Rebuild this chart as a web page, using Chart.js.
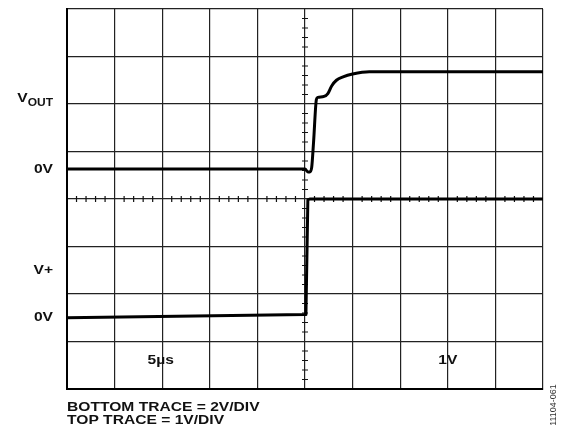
<!DOCTYPE html>
<html>
<head>
<meta charset="utf-8">
<script src="https://cdn.jsdelivr.net/npm/chart.js@4"></script>
<style>
  html, body { margin: 0; padding: 0; background: #fff; }
  #wrap { position: relative; width: 569px; height: 432px; }
</style>
</head>
<body>
<div id="wrap"><canvas id="scope" width="569" height="432"></canvas></div>
<script>
// time in divisions (10 across), level in divisions (8 up)
const topTime = [0, 5.0, 5.06, 5.10, 5.14, 5.18, 5.24, 5.27, 5.40, 5.48, 5.56, 5.66, 5.80, 6.0, 6.35, 10];
const topLevel = [4.63, 4.63, 4.57, 4.57, 4.66, 5.2, 6.1, 6.14, 6.16, 6.22, 6.38, 6.5, 6.57, 6.63, 6.68, 6.68];

const bottomTime = [0, 5.0, 5.02, 5.06, 5.1, 10];
const bottomLevel = [1.5, 1.57, 1.6, 3.98, 4.0, 4.0];

// left side labels: text and level
const sideLabels = ["VOUT", "0V", "V+", "0V"];
const sideLevels = [6.1, 4.63, 2.5, 1.5];

const scaleLabels = ["5µs", "1V"];
const scaleTimes = [1.97, 8.0];

const footLines = ["BOTTOM TRACE = 2V/DIV", "TOP TRACE = 1V/DIV"];
const figId = "11104-061";

const FAMILY = "'Liberation Sans', Arial, sans-serif";
const STRETCH = 1.2;

// text drawn a little wider than the stock font
function wideText(ctx, t, x, y, align, size) {
  ctx.save();
  ctx.font = "bold " + size + "px " + FAMILY;
  ctx.translate(x, y);
  ctx.scale(STRETCH, 1);
  ctx.textAlign = align;
  ctx.fillText(t, 0, 0);
  const w = ctx.measureText(t).width * STRETCH;
  ctx.restore();
  return w;
}

const scopeMarks = {
  id: "scopeMarks",
  beforeDatasetsDraw(chart) {
    const ctx = chart.ctx;
    const xs = chart.scales.x;
    const ys = chart.scales.y;
    const cx = xs.getPixelForValue(5);
    const cy = ys.getPixelForValue(4);
    ctx.save();
    ctx.strokeStyle = "#111";
    ctx.lineWidth = 1.2;
    ctx.beginPath();
    // minor ticks on the centre axes, 5 per division
    for (let i = 1; i < 50; i++) {
      if (i % 5 === 0) continue;
      const px = xs.getPixelForValue(i * 0.2);
      ctx.moveTo(px, cy - 3);
      ctx.lineTo(px, cy + 3);
    }
    for (let i = 1; i < 40; i++) {
      if (i % 5 === 0) continue;
      const py = ys.getPixelForValue(i * 0.2);
      ctx.moveTo(cx - 3, py);
      ctx.lineTo(cx + 3, py);
    }
    ctx.stroke();
    ctx.restore();
  },
  afterDraw(chart) {
    const ctx = chart.ctx;
    const xs = chart.scales.x;
    const ys = chart.scales.y;
    const area = chart.chartArea;
    ctx.save();
    ctx.fillStyle = "#111";
    ctx.textBaseline = "middle";

    sideLabels.forEach((t, i) => {
      const y = ys.getPixelForValue(sideLevels[i]);
      if (t === "VOUT") {
        const w = wideText(ctx, "OUT", 53, y + 4, "right", 10);
        wideText(ctx, "V", 53 - w, y - 1, "right", 13);
      } else {
        wideText(ctx, t, 53, y, "right", 13);
      }
    });

    scaleLabels.forEach((t, i) => {
      wideText(ctx, t, xs.getPixelForValue(scaleTimes[i]), 360, "center", 13);
    });

    wideText(ctx, footLines[0], area.left, area.bottom + 18, "left", 13);
    wideText(ctx, footLines[1], area.left, area.bottom + 31, "left", 13);

    ctx.font = "9px " + FAMILY;
    ctx.fillStyle = "#333";
    ctx.translate(554, 405);
    ctx.rotate(-Math.PI / 2);
    ctx.textAlign = "center";
    ctx.fillText(figId, 0, 0);
    ctx.restore();
  }
};

const toPoints = (xs, ys) => xs.map((x, i) => ({ x: x, y: ys[i] }));

new Chart(document.getElementById("scope"), {
  type: "line",
  data: {
    datasets: [
      {
        data: toPoints(topTime, topLevel),
        borderColor: "#000",
        borderWidth: 3,
        pointRadius: 0,
        cubicInterpolationMode: "monotone",
        borderJoinStyle: "round",
        borderCapStyle: "round"
      },
      {
        data: toPoints(bottomTime, bottomLevel),
        borderColor: "#000",
        borderWidth: 3,
        pointRadius: 0,
        tension: 0,
        borderJoinStyle: "round"
      }
    ]
  },
  options: {
    responsive: false,
    animation: false,
    events: [],
    layout: { padding: { left: 67, top: 9, right: 26, bottom: 43 } },
    plugins: { legend: { display: false }, tooltip: { enabled: false } },
    scales: {
      x: {
        type: "linear",
        min: 0,
        max: 10,
        ticks: { display: false, stepSize: 1 },
        grid: { color: "#222", lineWidth: 1.2, drawTicks: false },
        border: { display: true, color: "#000", width: 2 }
      },
      y: {
        type: "linear",
        min: 0,
        max: 8,
        ticks: { display: false, stepSize: 1 },
        grid: { color: "#222", lineWidth: 1.2, drawTicks: false },
        border: { display: true, color: "#000", width: 2 }
      }
    }
  },
  plugins: [scopeMarks]
});
</script>
</body>
</html>
